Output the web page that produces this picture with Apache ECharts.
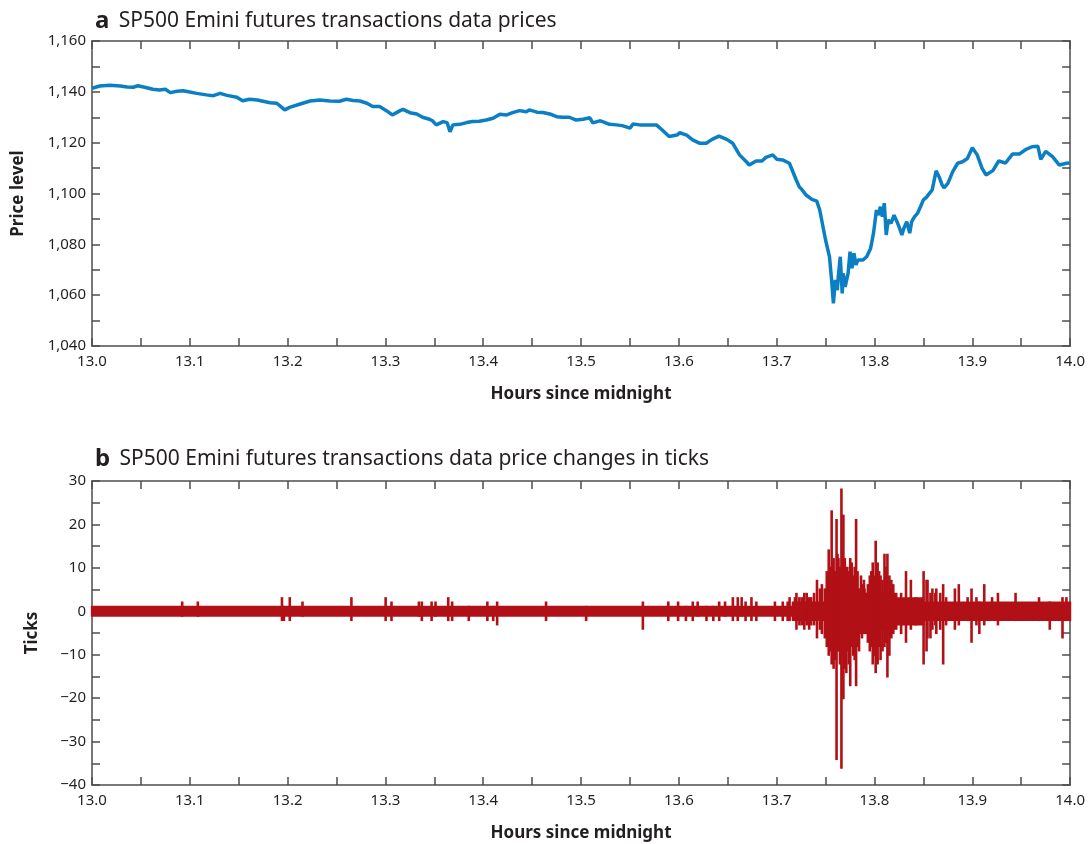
<!DOCTYPE html>
<html>
<head>
<meta charset="utf-8">
<script src="https://cdn.jsdelivr.net/npm/echarts@6/dist/echarts.min.js"></script>
<style>
  html, body { margin: 0; padding: 0; background: #fff; }
  #chart { width: 1088px; height: 844px; }
</style>
</head>
<body>
<div id="chart"></div>
<script>
// panel a: transaction prices (hours since midnight, price level)
var priceHours = [
  13.000, 13.008, 13.018, 13.029, 13.036, 13.042, 13.047, 13.056, 13.062, 13.069,
  13.075, 13.080, 13.087, 13.093, 13.100, 13.107, 13.117, 13.124, 13.131, 13.138,
  13.148, 13.154, 13.161, 13.169, 13.175, 13.182, 13.189, 13.194, 13.197, 13.202,
  13.212, 13.223, 13.233, 13.243, 13.253, 13.260, 13.267, 13.274, 13.281, 13.287,
  13.294, 13.301, 13.307, 13.315, 13.318, 13.325, 13.332, 13.338, 13.345, 13.348,
  13.352, 13.359, 13.363, 13.366, 13.369, 13.376, 13.383, 13.389, 13.396, 13.403,
  13.410, 13.417, 13.424, 13.430, 13.437, 13.444, 13.447, 13.455, 13.461, 13.468,
  13.475, 13.481, 13.488, 13.495, 13.502, 13.509, 13.512, 13.519, 13.522, 13.529,
  13.536, 13.542, 13.550, 13.553, 13.560, 13.570, 13.577, 13.583, 13.590, 13.598,
  13.601, 13.608, 13.614, 13.621, 13.628, 13.634, 13.641, 13.649, 13.655, 13.662,
  13.669, 13.672, 13.679, 13.685, 13.689, 13.696, 13.700, 13.706, 13.713, 13.720,
  13.723, 13.726, 13.730, 13.736, 13.741, 13.744, 13.747, 13.750, 13.754, 13.756,
  13.758, 13.760, 13.762, 13.763, 13.765, 13.767, 13.768, 13.770, 13.773, 13.775,
  13.777, 13.779, 13.781, 13.783, 13.788, 13.792, 13.796, 13.799, 13.802, 13.804,
  13.806, 13.808, 13.810, 13.812, 13.814, 13.817, 13.820, 13.823, 13.825, 13.828,
  13.830, 13.833, 13.836, 13.838, 13.841, 13.844, 13.847, 13.850, 13.853, 13.859,
  13.863, 13.866, 13.869, 13.871, 13.875, 13.880, 13.885, 13.890, 13.895, 13.900,
  13.905, 13.910, 13.914, 13.921, 13.927, 13.934, 13.941, 13.948, 13.955, 13.961,
  13.967, 13.970, 13.975, 13.982, 13.989, 13.996, 14.000
];
var priceValues = [
  1141.4, 1142.3, 1142.6, 1142.3, 1141.9, 1141.8, 1142.4, 1141.6, 1141.0, 1140.7,
  1141.0, 1139.7, 1140.2, 1140.4, 1139.9, 1139.4, 1138.8, 1138.5, 1139.4, 1138.6,
  1137.9, 1136.5, 1137.1, 1136.8, 1136.3, 1135.7, 1135.5, 1133.9, 1132.9, 1133.9,
  1135.1, 1136.4, 1136.8, 1136.4, 1136.3, 1137.1, 1136.6, 1136.4, 1135.5, 1134.2,
  1134.2, 1132.6, 1130.9, 1132.6, 1133.1, 1131.8, 1131.3, 1130.0, 1129.2, 1128.6,
  1127.0, 1128.3, 1127.9, 1124.3, 1127.0, 1127.2, 1127.9, 1128.3, 1128.4, 1128.9,
  1129.6, 1131.2, 1130.9, 1131.8, 1132.6, 1132.2, 1132.9, 1132.0, 1131.9, 1131.3,
  1130.2, 1130.0, 1130.0, 1128.9, 1129.2, 1129.8, 1127.8, 1128.6, 1128.3, 1127.2,
  1127.0, 1126.7, 1125.7, 1127.3, 1127.0, 1127.0, 1127.0, 1125.0, 1122.4, 1123.0,
  1123.9, 1123.0, 1121.1, 1119.8, 1119.8, 1121.3, 1122.6, 1121.3, 1119.8, 1115.2,
  1112.5, 1111.2, 1112.8, 1112.8, 1114.2, 1115.2, 1113.5, 1113.2, 1111.9, 1105.3,
  1102.7, 1101.4, 1099.4, 1097.7, 1097.0, 1093.5, 1087.6, 1081.7, 1075.1, 1066.6,
  1056.8, 1066.0, 1062.0, 1067.3, 1075.1, 1060.7, 1068.6, 1063.3, 1068.6, 1077.1,
  1070.6, 1076.5, 1071.9, 1073.8, 1073.8, 1075.1, 1078.4, 1084.4, 1093.5, 1091.5,
  1094.8, 1090.9, 1096.2, 1083.7, 1089.6, 1088.3, 1091.5, 1088.9, 1087.0, 1083.7,
  1086.3, 1088.9, 1084.4, 1088.9, 1090.9, 1092.2, 1094.8, 1097.5, 1098.5, 1101.4,
  1108.9, 1106.6, 1103.5, 1102.2, 1104.0, 1108.6, 1111.9, 1112.5, 1113.8, 1118.0,
  1115.2, 1109.9, 1107.3, 1109.0, 1112.8, 1112.0, 1115.5, 1115.5, 1117.4, 1118.4,
  1118.6, 1113.4, 1116.6, 1114.5, 1111.2, 1111.9, 1112.0
];

// panel b: dense background band of tick changes (start hour, end hour, max, min)
var bandStart = [13.000, 13.720, 13.750, 13.790, 13.820, 13.850];
var bandEnd   = [13.720, 13.750, 13.790, 13.820, 13.850, 14.000];
var bandHigh  = [1, 2, 5, 4, 3, 2];
var bandLow   = [-1, -2, -5, -4, -3, -2];

// panel b: individual spikes (hour, max ticks, min ticks)
var spikeHours = [
  13.092, 13.108, 13.194, 13.196, 13.202, 13.215, 13.265, 13.300, 13.306, 13.334,
  13.337, 13.347, 13.351, 13.364, 13.368, 13.385, 13.404, 13.410, 13.414, 13.464,
  13.505, 13.563, 13.589, 13.599, 13.607, 13.614, 13.619, 13.628, 13.635, 13.641,
  13.647, 13.655, 13.660, 13.664, 13.668, 13.674, 13.679, 13.698, 13.706, 13.711,
  13.713, 13.720, 13.723, 13.728, 13.735, 13.741, 13.744, 13.749, 13.753, 13.756,
  13.758, 13.761, 13.763, 13.766, 13.768, 13.771, 13.775, 13.778, 13.781, 13.784,
  13.786, 13.791, 13.795, 13.798, 13.801, 13.803, 13.806, 13.810, 13.813, 13.817,
  13.822, 13.827, 13.832, 13.837, 13.842, 13.850, 13.853, 13.854, 13.857, 13.859,
  13.862, 13.863, 13.867, 13.870, 13.873, 13.882, 13.886, 13.895, 13.899, 13.904,
  13.907, 13.912, 13.920, 13.926, 13.944, 13.968, 13.979, 13.992, 13.996,
  13.7165, 13.7185, 13.7255, 13.7305, 13.733, 13.738, 13.746, 13.751, 13.7545, 13.757,
  13.7595, 13.762, 13.7645, 13.767, 13.7695, 13.772, 13.7735, 13.7765, 13.7795, 13.7825,
  13.787, 13.789, 13.793, 13.7965, 13.7995, 13.8045, 13.808, 13.8115, 13.815, 13.819
];
var spikeHigh = [
  2, 2, 3, 1, 3, 2, 3, 3, 2, 2,
  2, 2, 2, 3, 2, 1, 2, 1, 2, 2,
  1, 2, 2, 2, 1, 2, 2, 1, 1, 2,
  2, 3, 3, 3, 2, 3, 2, 2, 2, 2,
  3, 4, 3, 4, 3, 7, 5, 5, 14, 23,
  12, 21, 12, 28, 22, 8, 12, 8, 21, 5,
  8, 4, 8, 11, 16, 11, 8, 13, 13, 7,
  4, 4, 9, 7, 3, 9, 7, 7, 4, 5,
  4, 5, 4, 6, 3, 5, 6, 3, 5, 3,
  2, 6, 3, 4, 4, 3, 2, 3, 3,
  2, 3, 3, 4, 3, 4, 6, 9, 10, 11,
  9, 13, 10, 14, 12, 10, 9, 11, 10, 9,
  6, 7, 6, 9, 8, 9, 7, 10, 8, 6
];
var spikeLow = [
  -1, -1, -2, -2, -2, -1, -2, -2, -2, -1,
  -2, -2, -1, -2, -2, -2, -2, -2, -3, -2,
  -2, -4, -2, -2, -2, -2, -1, -2, -2, -2,
  -1, -2, -2, -1, -2, -2, -2, -2, -2, -2,
  -2, -4, -3, -4, -3, -6, -4, -6, -10, -12,
  -13, -34, -9, -36, -20, -14, -17, -10, -17, -9,
  -3, -5, -9, -12, -14, -12, -11, -8, -15, -6,
  -4, -5, -7, -4, -3, -12, -9, -6, -6, -4,
  -3, -5, -4, -12, -3, -4, -3, -2, -7, -3,
  -5, -3, -2, -3, -2, -2, -4, -6, -2,
  -2, -2, -3, -3, -4, -3, -5, -8, -9, -10,
  -11, -9, -12, -10, -13, -9, -12, -8, -11, -8,
  -6, -5, -7, -8, -10, -8, -9, -7, -10, -5
];

var xTicks = { min: 13, max: 14, interval: 0.05 };
var priceAxis = { min: 1040, max: 1160, interval: 10 };
var tickAxis = { min: -40, max: 30, interval: 5 };

var textColor = '#231f20';
var axisColor = '#4d4d4f';
var font = 'Noto Sans';

document.addEventListener('DOMContentLoaded', function () {
  var chart = echarts.init(document.getElementById('chart'));

  var priceData = priceHours.map(function (h, i) { return [h, priceValues[i]]; });

  var tickRows = [];
  bandStart.forEach(function (h, i) {
    tickRows.push([h, bandEnd[i], bandHigh[i], bandLow[i]]);
  });
  spikeHours.forEach(function (h, i) {
    tickRows.push([h, h + 0.0004, spikeHigh[i], spikeLow[i]]);
  });

  function xAxis(gridIndex, position, withLabels) {
    return {
      type: 'value', gridIndex: gridIndex, position: position,
      min: xTicks.min, max: xTicks.max, interval: xTicks.interval,
      axisLine: { show: true, onZero: false, lineStyle: { color: axisColor, width: 1.5 } },
      axisTick: { show: true, inside: true, length: 8, lineStyle: { color: axisColor, width: 1.5 } },
      splitLine: { show: false },
      axisLabel: {
        show: withLabels, color: textColor, fontSize: 15, margin: 8, fontFamily: font,
        formatter: function (v) {
          return Math.round(v * 100) % 10 === 0 ? v.toFixed(1) : '';
        }
      },
      name: withLabels ? 'Hours since midnight' : '',
      nameLocation: 'middle', nameGap: 40,
      nameTextStyle: { color: textColor, fontSize: 17, fontWeight: 'bold', fontFamily: font }
    };
  }

  function yAxis(gridIndex, position, range, labelStep, name, nameGap) {
    var withLabels = position === 'left';
    return {
      type: 'value', gridIndex: gridIndex, position: position,
      min: range.min, max: range.max, interval: range.interval,
      axisLine: { show: true, onZero: false, lineStyle: { color: axisColor, width: 1.5 } },
      axisTick: { show: true, inside: true, length: 8, lineStyle: { color: axisColor, width: 1.5 } },
      splitLine: { show: false },
      axisLabel: {
        show: withLabels, color: textColor, fontSize: 15, margin: 6, fontFamily: font,
        formatter: function (v) {
          if (Math.round(v) % labelStep !== 0) return '';
          var s = Math.abs(v).toLocaleString('en-US');
          return v < 0 ? '\u2212' + s : s;
        }
      },
      name: withLabels ? name : '',
      nameLocation: 'middle', nameGap: nameGap,
      nameTextStyle: { color: textColor, fontSize: 17, fontWeight: 'bold', fontFamily: font }
    };
  }

  function panelTitle(letter, text, top) {
    return {
      left: 90, top: top,
      text: '{a|' + letter + '}  {t|' + text + '}',
      textStyle: { rich: {
        a: { fontSize: 24, fontWeight: 'bold', color: textColor, fontFamily: font },
        t: { fontSize: 21, fontWeight: 'normal', color: textColor, fontFamily: font }
      } }
    };
  }

  var option = {
    animation: false,
    backgroundColor: '#fff',
    textStyle: { fontFamily: font },
    title: [
      panelTitle('a', 'SP500 Emini futures transactions data prices', 4),
      panelTitle('b', 'SP500 Emini futures transactions data price changes in ticks', 442)
    ],
    grid: [
      { left: 92, top: 41, width: 979, height: 305 },
      { left: 92, top: 481, width: 979, height: 304 }
    ],
    xAxis: [
      xAxis(0, 'bottom', true),
      xAxis(0, 'top', false),
      xAxis(1, 'bottom', true),
      xAxis(1, 'top', false)
    ],
    yAxis: [
      yAxis(0, 'left', priceAxis, 20, 'Price level', 65),
      yAxis(0, 'right', priceAxis, 20, '', 0),
      yAxis(1, 'left', tickAxis, 10, 'Ticks', 51),
      yAxis(1, 'right', tickAxis, 10, '', 0)
    ],
    series: [
      {
        type: 'line', xAxisIndex: 0, yAxisIndex: 0,
        data: priceData, showSymbol: false,
        lineStyle: { color: '#0b7fc4', width: 3.5 },
        z: 3
      },
      {
        type: 'custom', xAxisIndex: 2, yAxisIndex: 2,
        data: tickRows,
        encode: { x: [0, 1], y: [2, 3] },
        renderItem: function (params, api) {
          var p0 = api.coord([api.value(0), api.value(2)]);
          var p1 = api.coord([api.value(1), api.value(3)]);
          return {
            type: 'rect',
            shape: { x: p0[0], y: p0[1], width: Math.max(p1[0] - p0[0], 0.4), height: p1[1] - p0[1] },
            style: { fill: '#b11116', stroke: '#b11116', lineWidth: 2.2 }
          };
        },
        z: 3
      }
    ]
  };

  chart.setOption(option);
});
</script>
</body>
</html>
